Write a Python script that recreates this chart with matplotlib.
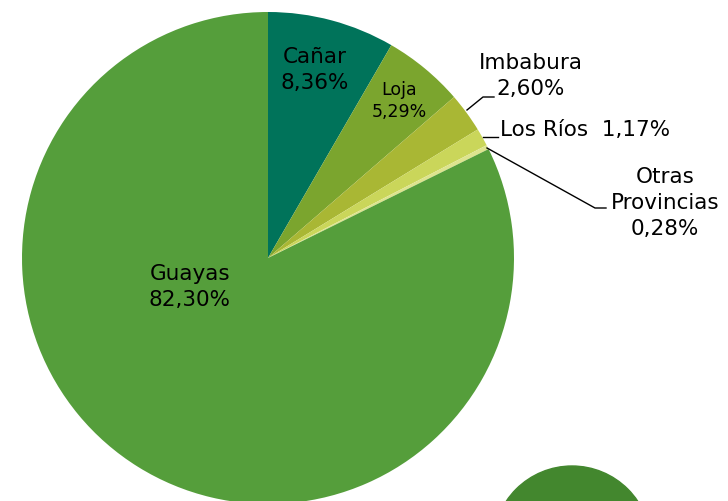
import matplotlib.pyplot as plt
from matplotlib.patches import Circle

# shares by province (%)
provincias = ['Cañar', 'Loja', 'Imbabura', 'Los Ríos', 'Otras Provincias', 'Guayas']
valores = [8.36, 5.29, 2.60, 1.17, 0.28, 82.30]
etiquetas = ['Cañar\n8,36%', 'Loja\n5,29%', 'Imbabura\n2,60%', 'Los Ríos  1,17%',
             'Otras\nProvincias\n0,28%', 'Guayas\n82,30%']
colores = ['#00735A', '#7BA52E', '#A9B734', '#CAD65A', '#DDE48E', '#559E3B']

W, H = 728, 501
FONT = 'DejaVu Sans'


def y(py):
    # pixel row (from top) -> data y
    return H - py


fig = plt.figure(figsize=(W / 100, H / 100), dpi=100)
ax = fig.add_axes([0, 0, 1, 1])

# decorative circle in bottom right
ax.add_patch(Circle((572, y(545)), 79, color='#43872E', zorder=0))

ax.pie(valores, colors=colores, startangle=90, counterclock=False,
       center=(268, y(258)), radius=246, frame=True,
       wedgeprops=dict(linewidth=0))
ax.set_xlim(0, W)
ax.set_ylim(0, H)
ax.set_aspect('equal')
ax.axis('off')

fs = 15.5
kw = dict(family=FONT, color='black')
ax.text(315, y(70), etiquetas[0], ha='center', va='center', fontsize=fs,
        linespacing=1.35, **kw)
ax.text(399, y(101), etiquetas[1], ha='center', va='center', fontsize=12.5,
        linespacing=1.25, **kw)
ax.text(531, y(76), etiquetas[2], ha='center', va='center', fontsize=fs,
        linespacing=1.35, **kw)
ax.text(500, y(130), etiquetas[3], ha='left', va='center', fontsize=fs, **kw)
ax.text(665, y(203), etiquetas[4], ha='center', va='center', fontsize=fs,
        linespacing=1.35, **kw)
ax.text(190, y(287), etiquetas[5], ha='center', va='center', fontsize=fs,
        linespacing=1.35, **kw)

# leader lines
ax.plot([467, 483, 494], [y(110), y(97), y(97)], color='black', lw=1)
ax.plot([483, 498], [y(137), y(137)], color='black', lw=1)
ax.plot([487, 595, 606], [y(148), y(208), y(208)], color='black', lw=1)

fig.savefig('out.png', dpi=100)
